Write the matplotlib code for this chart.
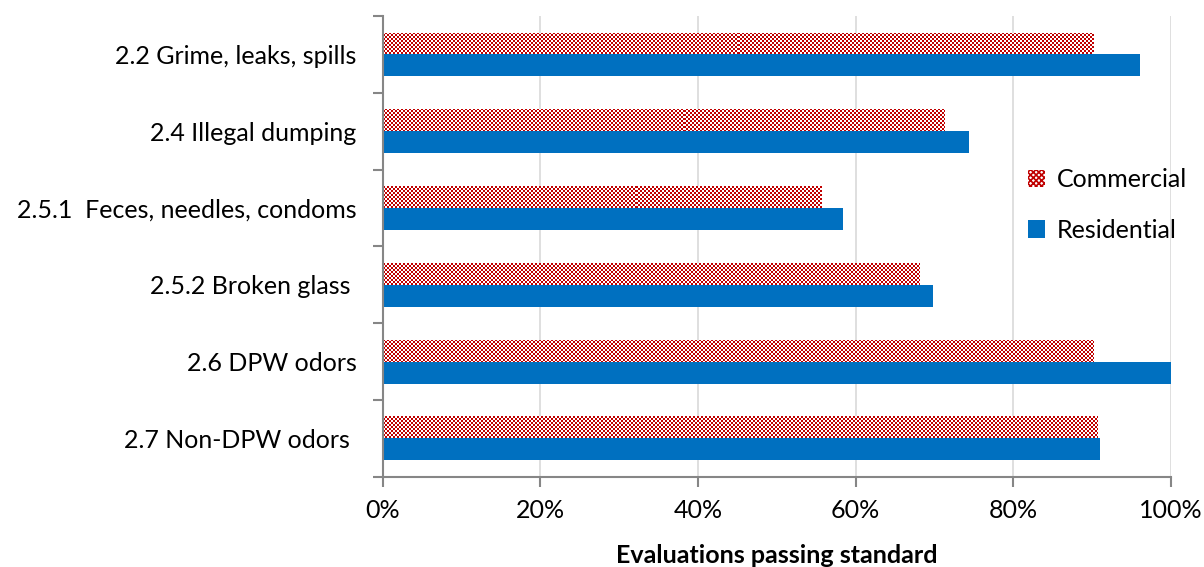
import numpy as np
import matplotlib
matplotlib.use("Agg")
import matplotlib.pyplot as plt
from matplotlib.patches import Patch
from matplotlib.ticker import PercentFormatter, FixedLocator

plt.rcParams["font.family"] = ["Lato", "DejaVu Sans"]
plt.rcParams["hatch.linewidth"] = 1.2

categories = [
    "2.2 Grime, leaks, spills",
    "2.4 Illegal dumping",
    "2.5.1  Feces, needles, condoms",
    "2.5.2 Broken glass ",
    "2.6 DPW odors",
    "2.7 Non-DPW odors ",
]
commercial = [0.901, 0.712, 0.556, 0.681, 0.902, 0.907]
residential = [0.961, 0.744, 0.584, 0.698, 1.000, 0.910]

RED = "#C00000"
BLUE = "#0070C0"
FS = 18


def checker_fill(ax, bars, cell=2):
    """Paint a red/white checkerboard inside each bar patch."""
    fig = ax.figure
    bbox = ax.get_window_extent(fig.canvas.get_renderer())
    nx = int(round(bbox.width / cell))
    ny = int(round(bbox.height / cell))
    board = (np.add.outer(np.arange(ny), np.arange(nx)) % 2).astype(float)
    cmap = matplotlib.colors.ListedColormap(["white", RED])
    x0, x1 = ax.get_xlim()
    y0, y1 = ax.get_ylim()
    for bar in bars:
        im = ax.imshow(board, cmap=cmap, extent=(x0, x1, y0, y1),
                       interpolation="nearest", aspect="auto", zorder=2)
        im.set_clip_path(bar)


fig = plt.figure(figsize=(12.04, 5.67), dpi=100)
ax = fig.add_axes([0.318, 0.159, 0.6545, 0.8126])

y = np.arange(len(categories))
h = 0.286
res_bars = ax.barh(y + h / 2, residential, height=h, color=BLUE, zorder=2)
com_bars = ax.barh(y - h / 2, commercial, height=h, color="white",
                   edgecolor="none", zorder=2)

ax.set_xlim(0, 1)
ax.set_ylim(len(categories) - 0.5, -0.5)
checker_fill(ax, com_bars)

# gridlines and spines
ax.set_xticks(np.arange(0, 1.01, 0.2))
ax.xaxis.set_major_formatter(PercentFormatter(1.0, decimals=0))
ax.grid(axis="x", color="#D9D9D9", linewidth=1.2, zorder=0)
ax.set_axisbelow(True)
for side in ("top", "right"):
    ax.spines[side].set_visible(False)
for side in ("left", "bottom"):
    ax.spines[side].set_color("#868686")
    ax.spines[side].set_linewidth(1.5)

ax.set_yticks(y)
ax.set_yticklabels(categories)
ax.yaxis.set_minor_locator(FixedLocator(np.arange(-0.5, len(categories), 1)))
ax.tick_params(axis="y", which="major", length=0, pad=19, labelsize=FS)
ax.tick_params(axis="y", which="minor", length=7, width=1.5, color="#868686")
ax.tick_params(axis="x", length=7, width=1.5, color="#868686",
               labelsize=FS, pad=9)

ax.set_xlabel("Evaluations passing standard", fontsize=FS, fontweight="bold",
              labelpad=16)

# legend with square swatches
handles = [Patch(facecolor="white", edgecolor=RED, hatch="xxxxxx",
                 linewidth=0),
           Patch(facecolor=BLUE, edgecolor="none")]
ax.legend(handles, ["Commercial", "Residential"], loc="center left",
          bbox_to_anchor=(0.79, 0.59), frameon=False, fontsize=FS,
          handlelength=0.7, handleheight=0.7, handletextpad=0.45,
          labelspacing=1.1)

fig.savefig("out.png", dpi=100)
